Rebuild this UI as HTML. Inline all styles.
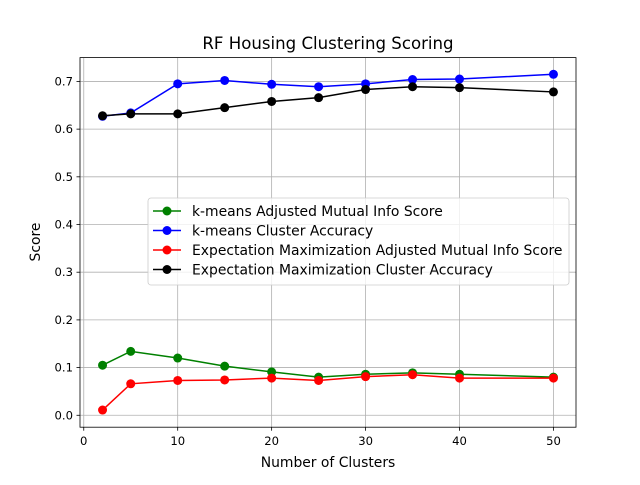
<!DOCTYPE html>
<html><head><meta charset="utf-8"><style>
body{margin:0;background:#fff;}
text{font-family:"DejaVu Sans","Liberation Sans",sans-serif;}
</style></head><body>
<svg id="chart" width="640" height="480" xmlns="http://www.w3.org/2000/svg">
<rect width="640" height="480" fill="#fff"/>
<g id="grid"></g>
<g id="axes"></g>
<g id="series"></g>
<text x="328" y="49" text-anchor="middle" font-size="16.6">RF Housing Clustering Scoring</text>
<text x="328" y="467" text-anchor="middle" font-size="13.9">Number of Clusters</text>
<text x="40" y="242" text-anchor="middle" font-size="13.9" transform="rotate(-90 40 242)">Score</text>
<g id="legend"></g>
</svg>
<script>
const clusters=[2,5,10,15,20,25,30,35,40,50];
const kmAmi=[0.105,0.134,0.120,0.103,0.091,0.080,0.086,0.089,0.086,0.080];
const kmAcc=[0.627,0.634,0.695,0.702,0.694,0.689,0.695,0.704,0.705,0.715];
const emAmi=[0.011,0.066,0.073,0.074,0.078,0.073,0.081,0.085,0.078,0.078];
const emAcc=[0.628,0.632,0.632,0.645,0.658,0.666,0.683,0.689,0.687,0.678];
const xTicks=[0,10,20,30,40,50];
const yTicks=[0.0,0.1,0.2,0.3,0.4,0.5,0.6,0.7];
const seriesNames=["k-means Adjusted Mutual Info Score","k-means Cluster Accuracy","Expectation Maximization Adjusted Mutual Info Score","Expectation Maximization Cluster Accuracy"];
const seriesColors=["green","blue","red","black"];
const seriesData=[kmAmi,kmAcc,emAmi,emAcc];

const L=80,R=576,T=57.6,B=427.2;
const xMin=-0.4,xMax=52.4,yMin=-0.025,yMax=0.75;
const xs=v=>L+(v-xMin)/(xMax-xMin)*(R-L);
const ys=v=>B-(v-yMin)/(yMax-yMin)*(B-T);
const NS="http://www.w3.org/2000/svg";
function mk(tag,attrs,parent){const e=document.createElementNS(NS,tag);for(const k in attrs)e.setAttribute(k,attrs[k]);parent.appendChild(e);return e;}
const grid=document.getElementById('grid'),axes=document.getElementById('axes'),ser=document.getElementById('series'),leg=document.getElementById('legend');

xTicks.forEach(t=>{
  const x=xs(t);
  const g=mk('line',{x1:x,x2:x,y1:T,y2:B,stroke:'#b0b0b0','stroke-width':0.8},grid);
  
  
  mk('line',{x1:x,x2:x,y1:B,y2:B+3.5,stroke:'#000','stroke-width':0.8},axes);
  const tx=mk('text',{x:x,y:B+18,'text-anchor':'middle','font-size':11.6},axes);
  tx.textContent=t;
  
  
});
yTicks.forEach(t=>{
  const y=ys(t);
  const g=mk('line',{x1:L,x2:R,y1:y,y2:y,stroke:'#b0b0b0','stroke-width':0.8},grid);
  
  
  mk('line',{x1:L-3.5,x2:L,y1:y,y2:y,stroke:'#000','stroke-width':0.8},axes);
  const tx=mk('text',{x:L-7,y:y+4,'text-anchor':'end','font-size':11.6},axes);
  tx.textContent=t.toFixed(1);
  
  
});
const frame=mk('rect',{x:L,y:T,width:R-L,height:B-T,fill:'none',stroke:'#000','stroke-width':0.8},axes);



seriesData.forEach((d,i)=>{
  const pts=d.map((v,j)=>xs(clusters[j])+','+ys(v)).join(' ');
  const pl=mk('polyline',{points:pts,fill:'none',stroke:seriesColors[i],'stroke-width':1.5},ser);
  
  
  d.forEach((v,j)=>{
    const c=mk('circle',{cx:xs(clusters[j]),cy:ys(v),r:4.5,fill:seriesColors[i]},ser);
    
    
  });
});

const lb=mk('rect',{x:148,y:198,width:421,height:87,rx:3,fill:'#fff','fill-opacity':0.8,stroke:'#ccc','stroke-width':0.8},leg);


seriesNames.forEach((n,i)=>{
  const y=211+i*19.5;
  mk('line',{x1:153,x2:181,y1:y,y2:y,stroke:seriesColors[i],'stroke-width':1.5},leg);
  mk('circle',{cx:167,cy:y,r:4.5,fill:seriesColors[i]},leg);
  const t=mk('text',{x:192,y:y+5,'font-size':13.9},leg);
  t.textContent=n;
  
  
});
</script>
</body></html>
